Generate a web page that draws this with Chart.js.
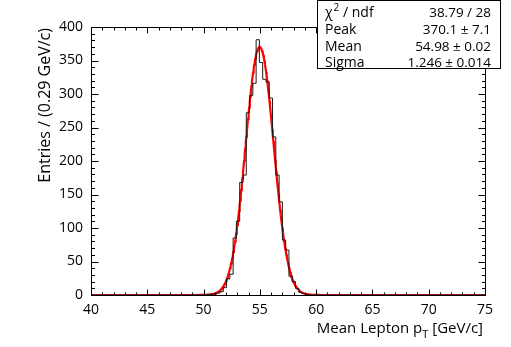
<!DOCTYPE html>
<html>
<head>
<meta charset="utf-8">
<script src="https://cdn.jsdelivr.net/npm/chart.js@4.4.1/dist/chart.umd.min.js"></script>
<style>
  html, body { margin: 0; padding: 0; background: #fff; }
  canvas { display: block; }
</style>
</head>
<body>
<canvas id="chart" width="511" height="347"></canvas>
<script>
// histogram: 31 filled bins of width 35/120 GeV/c, first lower edge below
const binLow = 50.293;
const binWidth = 35 / 120;
const binCounts = [1, 1, 2, 3, 5, 11, 24, 31, 85, 110, 168, 179, 272, 298, 316, 381,
  347, 322, 318, 294, 236, 179, 139, 82, 67, 28, 20, 10, 4, 2, 1];

// gaussian fit, as printed in the stats box
const fitPeak = 370.1;
const fitMean = 54.98;
const fitSigma = 1.246;

const xTicks = [40, 45, 50, 55, 60, 65, 70, 75];
const yTicks = [0, 50, 100, 150, 200, 250, 300, 350, 400];
const statNames = ['χ2 / ndf', 'Peak', 'Mean', 'Sigma'];
const statValues = ['38.79 / 28', '370.1 ± 7.1', '54.98 ± 0.02', '1.246 ± 0.014'];

const FONT = '"Open Sans", "DejaVu Sans", sans-serif';

function histPoints() {
  const pts = [{ x: 40, y: 0 }, { x: binLow, y: 0 }];
  binCounts.forEach((c, i) => pts.push({ x: binLow + i * binWidth, y: c }));
  pts.push({ x: binLow + binCounts.length * binWidth, y: 0 });
  pts.push({ x: 75, y: 0 });
  return pts;
}

function fitPoints() {
  const pts = [];
  for (let i = 0; i <= 700; i++) {
    const x = 40 + i * 0.05;
    const z = (x - fitMean) / fitSigma;
    pts.push({ x, y: fitPeak * Math.exp(-0.5 * z * z) });
  }
  return pts;
}

const frame = {
  id: 'frame',
  afterDatasetsDraw(chart) {
    const { ctx, chartArea: a, scales: { x, y } } = chart;
    const L = Math.round(a.left) + 0.5, R = Math.round(a.right) + 0.5;
    const T = Math.round(a.top) + 0.5, B = Math.round(a.bottom) + 0.5;
    ctx.save();
    ctx.strokeStyle = '#000';
    ctx.lineWidth = 1;
    ctx.strokeRect(L, T, R - L, B - T);
    ctx.beginPath();
    // x ticks, bottom and top, every 1 with majors at labels
    for (let v = 40; v <= 75; v += 1) {
      const px = Math.round(x.getPixelForValue(v)) + 0.5;
      const len = xTicks.includes(v) ? 6 : 3;
      ctx.moveTo(px, B); ctx.lineTo(px, B - len);
      ctx.moveTo(px, T); ctx.lineTo(px, T + len);
    }
    // y ticks, left and right, every 10
    for (let v = 0; v <= 400; v += 10) {
      const py = Math.round(y.getPixelForValue(v)) + 0.5;
      const len = yTicks.includes(v) ? 7 : 3.5;
      ctx.moveTo(L, py); ctx.lineTo(L + len, py);
      ctx.moveTo(R, py); ctx.lineTo(R - len, py);
    }
    ctx.stroke();

    ctx.fillStyle = '#000';
    ctx.font = '14px ' + FONT;
    ctx.textAlign = 'center';
    ctx.textBaseline = 'middle';
    xTicks.forEach(v => ctx.fillText(String(v), x.getPixelForValue(v), a.bottom + 15));
    ctx.textAlign = 'right';
    yTicks.forEach(v => ctx.fillText(String(v), a.left - 8, y.getPixelForValue(v)));

    // x title with subscript T
    ctx.textBaseline = 'alphabetic';
    const t1 = 'Mean Lepton p', t2 = 'T', t3 = ' [GeV/c]';
    ctx.font = '11px ' + FONT;
    const w2 = ctx.measureText(t2).width;
    ctx.font = '15px ' + FONT;
    const w3 = ctx.measureText(t3).width;
    const xr = a.right - 2;
    ctx.textAlign = 'right';
    ctx.fillText(t3, xr, 333);
    ctx.font = '11px ' + FONT;
    ctx.fillText(t2, xr - w3, 338);
    ctx.font = '15px ' + FONT;
    ctx.fillText(t1, xr - w3 - w2, 333);

    // y title
    ctx.save();
    ctx.translate(45, a.top + 1);
    ctx.rotate(-Math.PI / 2);
    ctx.font = '16px ' + FONT;
    ctx.textAlign = 'right';
    ctx.textBaseline = 'middle';
    ctx.fillText('Entries / (0.29 GeV/c)', 0, 0);
    ctx.restore();
    ctx.restore();
  },
  afterDraw(chart) {
    const { ctx } = chart;
    ctx.save();
    ctx.fillStyle = '#fff';
    ctx.fillRect(317, 0, 184, 69);
    ctx.strokeStyle = '#000';
    ctx.lineWidth = 1;
    ctx.strokeRect(317.5, 0.5, 183, 68);
    ctx.fillStyle = '#000';
    ctx.textBaseline = 'middle';
    const rowY = [13, 30, 47, 63];
    statNames.forEach((name, i) => {
      ctx.font = '14px ' + FONT;
      ctx.textAlign = 'left';
      if (i === 0) {
        const chi = 'χ';
        ctx.fillText(chi, 325, rowY[i]);
        const wc = ctx.measureText(chi).width;
        ctx.font = '10px ' + FONT;
        ctx.fillText('2', 325 + wc + 1, rowY[i] - 5);
        const w2 = ctx.measureText('2').width;
        ctx.font = '14px ' + FONT;
        ctx.fillText(' / ndf', 325 + wc + 1 + w2, rowY[i]);
      } else {
        ctx.fillText(name, 325, rowY[i]);
      }
      ctx.font = '13.5px ' + FONT;
      ctx.textAlign = 'right';
      ctx.fillText(statValues[i], 491, rowY[i]);
    });
    ctx.restore();
  }
};

new Chart(document.getElementById('chart'), {
  type: 'line',
  data: {
    datasets: [
      {
        data: histPoints(),
        borderColor: '#1a1a1a',
        borderWidth: 1,
        stepped: 'before',
        pointRadius: 0,
        fill: false,
        clip: false
      },
      {
        data: fitPoints(),
        borderColor: '#ff0000',
        borderWidth: 2.2,
        tension: 0,
        pointRadius: 0,
        fill: false,
        clip: false
      }
    ]
  },
  options: {
    responsive: false,
    animation: false,
    layout: { padding: { left: 91, right: 26, top: 27, bottom: 52 } },
    scales: {
      x: { type: 'linear', min: 40, max: 75, display: false },
      y: { type: 'linear', min: 0, max: 400, display: false }
    },
    plugins: { legend: { display: false }, tooltip: { enabled: false } }
  },
  plugins: [frame]
});
</script>
</body>
</html>
